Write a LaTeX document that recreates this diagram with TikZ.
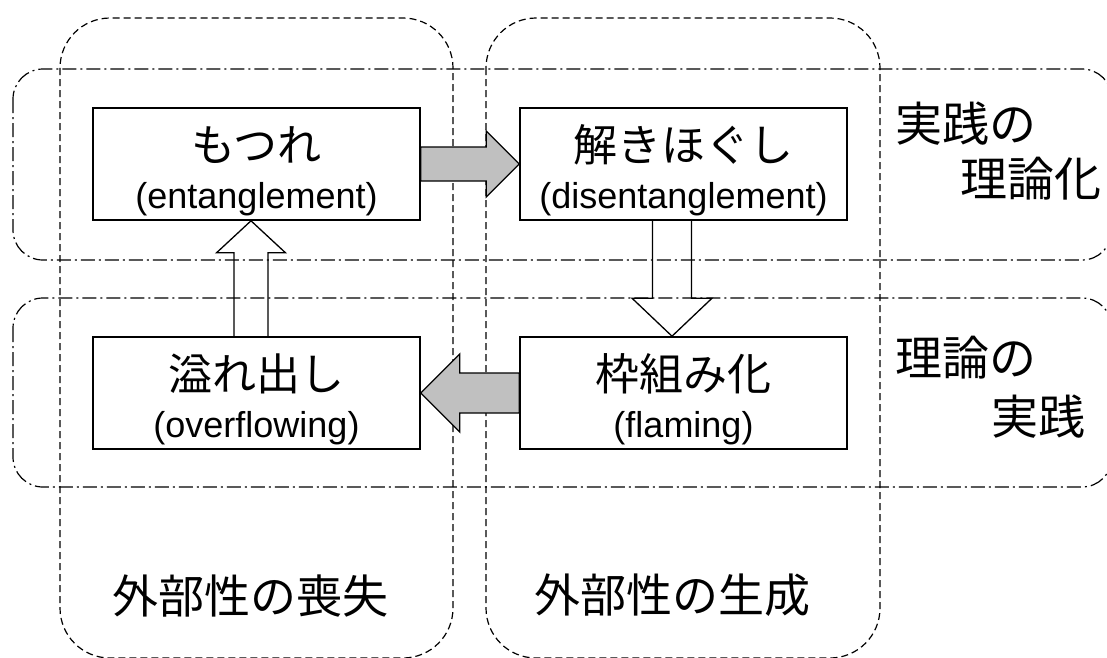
\documentclass[tikz,border=0pt]{standalone}
\usepackage{fontspec}
\setmainfont{Liberation Sans}
\newfontfamily\jp{Noto Sans CJK JP}
\usetikzlibrary{calc}
\definecolor{arrowgray}{HTML}{C0C0C0}
\begin{document}
\begin{tikzpicture}[x=1pt,y=-1pt,
  colbox/.style={draw, dash pattern=on 7pt off 4pt, line width=1.2pt, rounded corners=50pt},
  rowbox/.style={draw, dash pattern=on 14pt off 4pt on 2pt off 4pt, line width=1.2pt, rounded corners=30pt},
  stagebox/.style={draw, line width=1.6pt, fill=white, minimum width=327pt, minimum height=112pt, inner sep=0pt},
  jtitle/.style={font=\jp\fontsize{44}{50}\selectfont, inner sep=0pt},
  entitle/.style={font=\fontsize{36}{42}\selectfont, inner sep=0pt},
  sidelab/.style={font=\jp\fontsize{47}{54}\selectfont, inner sep=0pt, anchor=west},
  collab/.style={font=\jp\fontsize{46}{52}\selectfont, inner sep=0pt},
  grayarrow/.style={draw, line width=1.3pt, fill=arrowgray, line join=miter},
  whitearrow/.style={draw, line width=1.3pt, line join=miter}
]
\useasboundingbox (0,0) rectangle (1107,657);

% columns (dashed)
\draw[colbox] (60,18) rectangle (453,658);
\draw[colbox] (486,18) rectangle (880,658);
% rows (dash-dot)
\draw[rowbox] (13,69) rectangle (1112,260);
\draw[rowbox] (13,298) rectangle (1112,487);

% boxes
\node[stagebox] (m) at (256.5,164) {};
\node[stagebox] (d) at (683.5,164) {};
\node[stagebox] (o) at (256.5,393) {};
\node[stagebox] (f) at (683.5,393) {};

% box texts
\node[jtitle] (mt) at (256.5,145) {もつれ};
\node[entitle] (me) at (256.5,199) {(entanglement)};
\node[jtitle] (dt) at (683.5,145) {解きほぐし};
\node[entitle] (de) at (683.5,199) {(disentanglement)};
\node[jtitle] (ot) at (256.5,374) {溢れ出し};
\node[entitle] (oe) at (256.5,428) {(overflowing)};
\node[jtitle] (ft) at (683.5,374) {枠組み化};
\node[entitle] (fe) at (683.5,428) {(flaming)};

% side labels
\node[sidelab] (l1) at (895,124) {実践の};
\node[sidelab] (l2) at (960,179) {理論化};
\node[sidelab] (l3) at (895,358) {理論の};
\node[sidelab] (l4) at (991,417) {実践};

% column labels
\node[collab] (c1) at (250,596) {外部性の喪失};
\node[collab] (c2) at (672,595) {外部性の生成};

% gray arrow: entanglement -> disentanglement
\draw[grayarrow] ($(m.east)+(0,-17)$) -- ($(d.west)+(-33,-17)$) -- ($(d.west)+(-33,-33)$)
  -- (d.west) -- ($(d.west)+(-33,33)$) -- ($(d.west)+(-33,17)$) -- ($(m.east)+(0,17)$) -- cycle;

% white arrow: disentanglement -> flaming
\coordinate (ds) at ($(d.south)+(-11.5,0)$);
\coordinate (dtip) at ($(f.north)+(-11.5,0)$);
\draw[whitearrow] ($(ds)+(-19.5,0)$) -- ($(dtip)+(-19.5,-38)$) -- ($(dtip)+(-40,-38)$)
  -- (dtip) -- ($(dtip)+(40,-38)$) -- ($(dtip)+(19.5,-38)$) -- ($(ds)+(19.5,0)$);

% gray arrow: flaming -> overflowing
\draw[grayarrow] ($(f.west)+(0,-20)$) -- ($(o.east)+(39,-20)$) -- ($(o.east)+(39,-39)$)
  -- (o.east) -- ($(o.east)+(39,39)$) -- ($(o.east)+(39,20)$) -- ($(f.west)+(0,20)$) -- cycle;

% white arrow: overflowing -> entanglement
\coordinate (us) at ($(o.north)+(-5.5,0)$);
\coordinate (utip) at ($(m.south)+(-5.5,0)$);
\draw[whitearrow] ($(us)+(-17,0)$) -- ($(utip)+(-17,32)$) -- ($(utip)+(-34.5,32)$)
  -- (utip) -- ($(utip)+(34.5,32)$) -- ($(utip)+(17,32)$) -- ($(us)+(17,0)$);
\end{tikzpicture}
\end{document}
